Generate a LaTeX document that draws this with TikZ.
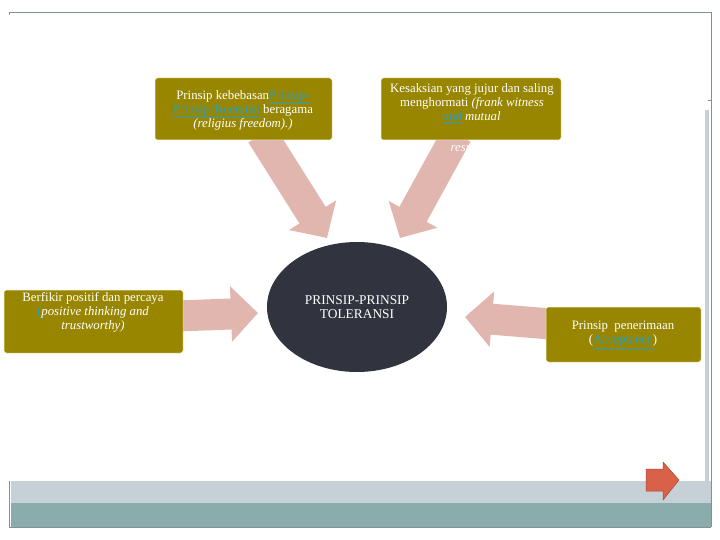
\documentclass[tikz,border=0pt]{standalone}
\usepackage{fontspec}
\setmainfont{Liberation Serif}
\usepackage{tikz}
\usetikzlibrary{arrows.meta,shapes.geometric,backgrounds}
\definecolor{boxolive}{RGB}{152,134,0}
\definecolor{boxedge}{RGB}{240,236,200}
\definecolor{arrowpink}{RGB}{224,182,175}
\definecolor{linkteal}{RGB}{40,160,190}
\definecolor{ovalgray}{RGB}{49,52,63}
\definecolor{frameline}{RGB}{130,145,150}
\definecolor{bandlight}{RGB}{197,209,214}
\definecolor{banddark}{RGB}{138,172,173}
\definecolor{nextred}{RGB}{217,97,74}
\definecolor{nextedge}{RGB}{170,74,54}
\newcommand{\lnk}[1]{{\color{linkteal}\underline{#1}}}

\begin{document}
\begin{tikzpicture}[x=1pt,y=-1pt,
  tbox/.style={draw=boxedge,line width=0.5pt,fill=boxolive,rounded corners=2.5pt,inner sep=0pt},
  ttext/.style={text=white,align=center,inner sep=0pt,font=\fontsize{12.8}{14}\selectfont},
  pinkarrow/.style={draw=arrowpink,line width=31pt,-{Triangle[length=27pt,width=54pt]}}]
\useasboundingbox (0,0) rectangle (720,540);
% frame and footer bands
\fill[bandlight] (11,481) rectangle (711,503);
\fill[banddark] (11,503) rectangle (711,527);
\draw[frameline,line width=0.6pt] (9,15) -- (9,12) -- (711,12) -- (711,527);
\draw[frameline,line width=0.6pt] (708,100) -- (711,100);
\fill[bandlight] (705,110) rectangle (709,481);
\draw[frameline,line width=0.4pt] (9,481) -- (9,527) -- (711,527);

\node[tbox,minimum width=177pt,minimum height=62pt] (b1) at (243.5,109) {};
\node[tbox,minimum width=180pt,minimum height=62pt] (b2) at (471,109) {};
\node[tbox,minimum width=179pt,minimum height=63pt] (b3) at (93.5,321.5) {};
\node[tbox,minimum width=155pt,minimum height=55pt] (b4) at (623.5,334.5) {};
\node[ellipse,fill=ovalgray,minimum width=180pt,minimum height=130pt,inner sep=0pt] (core) at (357,307) {};

\coordinate (tipA) at (327,238);
\coordinate (tipB) at (400,238);
\coordinate (tipC) at (258,313);
\coordinate (tipD) at (465,317);
\begin{scope}[on background layer]
\fill[white] (0,0) rectangle (720,540);
\draw[pinkarrow] ([xshift=18pt,yshift=6pt]b1.south) -- (tipA);
\draw[pinkarrow] ([xshift=-14pt,yshift=6pt]b2.south) -- (tipB);
\draw[pinkarrow] ([xshift=-6pt,yshift=5.5pt]b3.east) -- (tipC);
\draw[pinkarrow] ([xshift=5pt,yshift=10.5pt]b4.west) -- (tipD);
\end{scope}

\node[ttext] (t1) at (243,110) {Prinsip kebebasan\lnk{Prinsip-}\\\lnk{Prinsip Toleransi} beragama\\\itshape(religius freedom).)};
\node[ttext] (t2) at (472,103) {Kesaksian yang jujur dan saling\\menghormati \textit{(frank witness}\\\lnk{and} \textit{mutual}};
\node[ttext,font=\fontsize{12.8}{14}\selectfont\itshape] (t2rest) at (471,148) {respect)};
\node[ttext] (t3) at (93,312) {Berfikir positif dan percaya\\{\color{linkteal}(}\textit{positive thinking and}\\\textit{trustworthy)}};
\node[ttext] (t4) at (623,335) {Prinsip\ \ penerimaan\\(\lnk{Acceptance})};
\node[ttext,font=\fontsize{13.4}{14}\selectfont] (coretext) at (core.center) {PRINSIP-PRINSIP\\TOLERANSI};

% next button
\draw[fill=nextred,draw=nextedge,line width=0.5pt] (646,469) -- (663,469) -- (663,462) -- (679,480) -- (663,500) -- (663,491) -- (646,491) -- cycle;
\end{tikzpicture}
\end{document}
